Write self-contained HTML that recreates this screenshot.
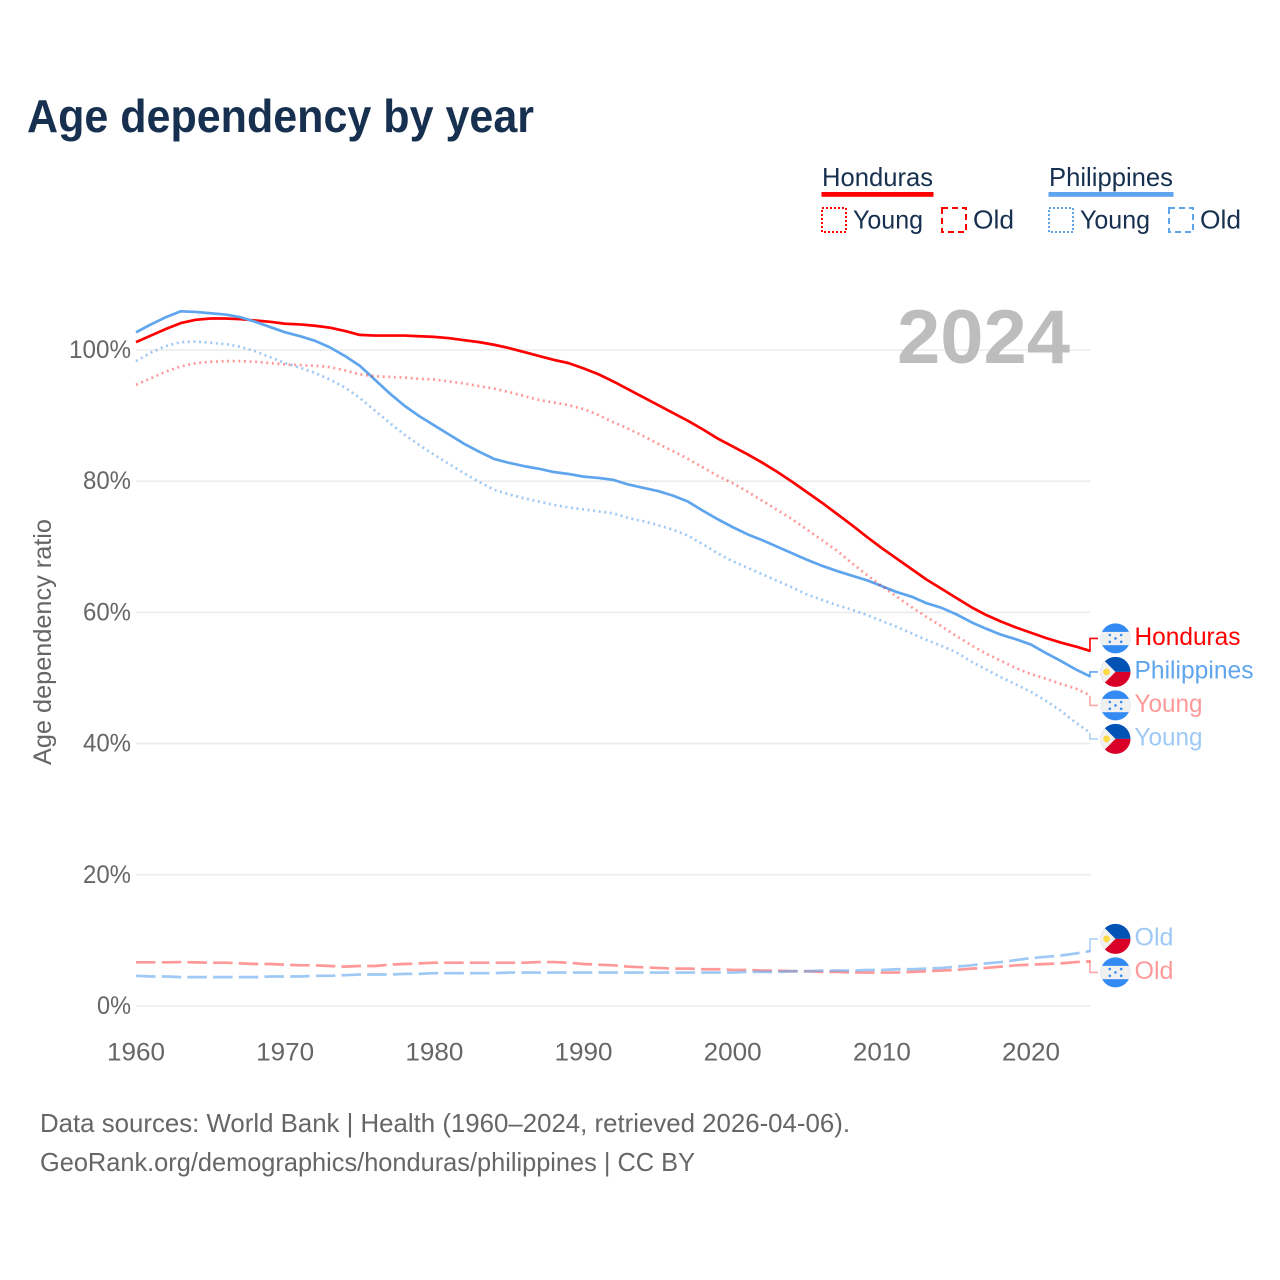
<!DOCTYPE html>
<html lang="en">
<head>
<meta charset="utf-8">
<title>Age dependency by year</title>
<style>
html,body{margin:0;padding:0;background:#fff;width:1280px;height:1280px;overflow:hidden}
svg{display:block}
text{font-family:"Liberation Sans",sans-serif}
</style>
</head>
<body>
<svg id="chart" width="1280" height="1280" viewBox="0 0 1280 1280" xmlns="http://www.w3.org/2000/svg">
<defs><clipPath id="flag-clip"><circle cx="0" cy="0" r="15"/></clipPath></defs>
<text x="27" y="132" font-size="46" font-weight="700" fill="#17304f" textLength="507" lengthAdjust="spacingAndGlyphs">Age dependency by year</text>

<g>
<g>
<text x="822" y="186" font-size="26" fill="#17304f" textLength="111" lengthAdjust="spacingAndGlyphs">Honduras</text>
<rect x="821.5" y="192" width="112" height="4.8" fill="#ff0000"/>
<rect x="822" y="208" width="24" height="24" fill="none" stroke="#ff0000" stroke-width="2" stroke-dasharray="2 2"/>
<text x="853" y="228.5" font-size="26" fill="#17304f" textLength="70" lengthAdjust="spacingAndGlyphs">Young</text>
<rect x="942" y="208" width="24" height="24" fill="none" stroke="#ff0000" stroke-width="2" stroke-dasharray="6 4"/>
<text x="973" y="228.5" font-size="26" fill="#17304f" textLength="41" lengthAdjust="spacingAndGlyphs">Old</text>
</g>
<g>
<text x="1049" y="186" font-size="26" fill="#17304f" textLength="124" lengthAdjust="spacingAndGlyphs">Philippines</text>
<rect x="1048.5" y="192" width="125" height="4.8" fill="#5fa5ee"/>
<rect x="1049" y="208" width="24" height="24" fill="none" stroke="#5fa5ee" stroke-width="2" stroke-dasharray="2 2"/>
<text x="1080" y="228.5" font-size="26" fill="#17304f" textLength="70" lengthAdjust="spacingAndGlyphs">Young</text>
<rect x="1169" y="208" width="24" height="24" fill="none" stroke="#5fa5ee" stroke-width="2" stroke-dasharray="6 4"/>
<text x="1200" y="228.5" font-size="26" fill="#17304f" textLength="41" lengthAdjust="spacingAndGlyphs">Old</text>
</g>
</g>

<g id="grid"></g>
<g id="y-ticks"></g>
<g id="x-ticks"></g>
<text transform="translate(51,642) rotate(-90)" text-anchor="middle" font-size="25" fill="#666666" textLength="246" lengthAdjust="spacingAndGlyphs">Age dependency ratio</text>
<text x="897" y="363" font-size="76" font-weight="700" fill="#bdbdbd" textLength="173" lengthAdjust="spacingAndGlyphs">2024</text>
<g id="series"></g>
<g id="end-labels"></g>

<text x="40" y="1132" font-size="26" fill="#666666" textLength="810" lengthAdjust="spacingAndGlyphs">Data sources: World Bank | Health (1960–2024, retrieved 2026-04-06).</text>
<text x="40" y="1171" font-size="26" fill="#666666" textLength="655" lengthAdjust="spacingAndGlyphs">GeoRank.org/demographics/honduras/philippines | CC BY</text>
</svg>
<script>
const startYear = 1960;
const xTickYears = [1960, 1970, 1980, 1990, 2000, 2010, 2020];
const yTickValues = [0, 20, 40, 60, 80, 100];

const hondurasTotal = [
 101.2,102.2,103.2,104.1,104.6,104.8,104.8,104.7,104.5,104.3,
 104.0,103.9,103.7,103.4,102.9,102.3,102.2,102.2,102.2,102.1,
 102.0,101.8,101.5,101.2,100.8,100.3,99.7,99.1,98.5,98.0,
 97.2,96.3,95.2,94.0,92.8,91.6,90.4,89.2,87.9,86.5,
 85.3,84.1,82.8,81.4,79.9,78.3,76.7,75.0,73.3,71.5,
 69.8,68.2,66.6,65.0,63.6,62.2,60.8,59.6,58.6,57.7,
 56.9,56.1,55.4,54.8,54.1];
const philippinesTotal = [
 102.7,103.9,105.0,105.9,105.8,105.6,105.4,105.0,104.3,103.5,
 102.7,102.1,101.4,100.4,99.1,97.6,95.5,93.4,91.5,89.9,
 88.5,87.1,85.7,84.5,83.4,82.8,82.3,81.9,81.4,81.1,
 80.7,80.5,80.2,79.5,79.0,78.5,77.8,76.9,75.5,74.2,
 73.0,71.9,71.0,70.0,69.0,68.0,67.1,66.3,65.6,64.9,
 64.0,63.1,62.4,61.4,60.7,59.7,58.5,57.5,56.6,55.9,
 55.1,53.8,52.6,51.3,50.2];
const hondurasYoung = [
 94.7,95.7,96.7,97.5,98.0,98.2,98.3,98.3,98.2,98.0,
 97.8,97.7,97.6,97.4,96.9,96.3,96.0,95.9,95.8,95.6,
 95.5,95.2,94.9,94.5,94.1,93.6,93.0,92.4,92.0,91.6,
 91.0,90.1,89.0,88.0,86.9,85.7,84.6,83.4,82.1,80.8,
 79.7,78.4,77.0,75.6,74.2,72.6,71.0,69.4,67.5,65.7,
 64.0,62.4,60.8,59.3,57.9,56.4,55.0,53.7,52.6,51.5,
 50.6,49.9,49.1,48.4,47.3];
const philippinesYoung = [
 98.3,99.6,100.6,101.2,101.3,101.1,100.9,100.5,99.8,98.9,
 98.0,97.3,96.5,95.5,94.3,92.7,90.8,88.9,87.1,85.5,
 84.0,82.6,81.2,79.9,78.7,78.0,77.4,76.9,76.4,76.0,
 75.7,75.4,75.1,74.4,73.9,73.3,72.6,71.7,70.4,69.0,
 67.8,66.8,65.8,64.8,63.8,62.7,61.9,61.1,60.4,59.6,
 58.7,57.8,56.8,55.8,54.9,53.9,52.5,51.3,50.1,49.0,
 47.9,46.5,45.0,43.2,41.6];
const hondurasOld = [
 6.66,6.66,6.66,6.7,6.65,6.6,6.6,6.5,6.4,6.4,
 6.3,6.2,6.2,6.1,6.0,6.1,6.1,6.3,6.4,6.5,
 6.6,6.6,6.6,6.6,6.6,6.6,6.6,6.7,6.7,6.6,
 6.4,6.3,6.2,6.0,5.9,5.8,5.7,5.7,5.6,5.6,
 5.5,5.5,5.4,5.4,5.3,5.3,5.2,5.2,5.1,5.1,
 5.1,5.1,5.2,5.3,5.4,5.5,5.7,5.8,6.0,6.2,
 6.3,6.4,6.5,6.7,6.8];
const philippinesOld = [
 4.6,4.5,4.5,4.4,4.4,4.4,4.4,4.4,4.4,4.5,
 4.5,4.5,4.6,4.6,4.7,4.8,4.8,4.8,4.9,4.9,
 5.0,5.0,5.0,5.0,5.0,5.1,5.1,5.1,5.1,5.1,
 5.1,5.1,5.1,5.1,5.1,5.1,5.1,5.1,5.1,5.1,
 5.1,5.2,5.2,5.2,5.3,5.3,5.4,5.4,5.4,5.5,
 5.5,5.6,5.6,5.7,5.8,6.0,6.2,6.5,6.7,7.0,
 7.3,7.5,7.7,8.0,8.4];

const SVGNS = 'http://www.w3.org/2000/svg';
const xScale = year => 136 + (year - 1960) * (1031 - 136) / 60;
const yScale = value => 1006 - value * (1006 - 350) / 100;
const mk = (tag, attrs, parent) => {
  const el = document.createElementNS(SVGNS, tag);
  for (const k in attrs) el.setAttribute(k, attrs[k]);
  parent.appendChild(el);
  return el;
};

const gridG = document.getElementById('grid');


const yTicksG = document.getElementById('y-ticks');


const xTicksG = document.getElementById('x-ticks');


const seriesG = document.getElementById('series');


const labelsG = document.getElementById('end-labels');



const lastYear = startYear + hondurasTotal.length - 1;

yTickValues.forEach(v => {
  const line = mk('line', {x1: 136, x2: xScale(lastYear), y1: yScale(v), y2: yScale(v), stroke: '#ececec', 'stroke-width': 1.6}, gridG);
  
  
  const t = mk('text', {x: 131, y: yScale(v) + 8, 'text-anchor': 'end', 'font-size': 25, fill: '#666666'}, yTicksG);
  
  
  t.setAttribute('textLength', (String(v).length * 14) + 20);
  t.setAttribute('lengthAdjust', 'spacingAndGlyphs');
  t.textContent = v + '%';
});

xTickYears.forEach(y => {
  const t = mk('text', {x: xScale(y), y: 1060.5, 'text-anchor': 'middle', 'font-size': 25, fill: '#666666', textLength: 58, lengthAdjust: 'spacingAndGlyphs'}, xTicksG);
  
  
  t.textContent = y;
});

const RED = '#ff0000', BLUE = '#5fa5ee';
const seriesList = [
  {key: 'honduras-total', values: hondurasTotal, color: RED, opacity: 1, dash: '', label: 'Honduras', flag: 'hn', group: 0},
  {key: 'philippines-total', values: philippinesTotal, color: BLUE, opacity: 1, dash: '', label: 'Philippines', flag: 'ph', group: 0},
  {key: 'honduras-young', values: hondurasYoung, color: RED, opacity: .4, dash: '2 3.6', label: 'Young', flag: 'hn', group: 0},
  {key: 'philippines-young', values: philippinesYoung, color: BLUE, opacity: .6, dash: '2 3.6', label: 'Young', flag: 'ph', group: 0},
  {key: 'honduras-old', values: hondurasOld, color: RED, opacity: .4, dash: '19.5 6.2', label: 'Old', flag: 'hn', group: 1},
  {key: 'philippines-old', values: philippinesOld, color: BLUE, opacity: .6, dash: '19.5 6.2', label: 'Old', flag: 'ph', group: 1}
];
const labelWidth = {Honduras: 106, Philippines: 119, Young: 68, Old: 39};

seriesList.forEach(s => {
  const d = s.values.map((v, i) => (i ? 'L' : 'M') + xScale(startYear + i).toFixed(2) + ',' + yScale(v).toFixed(2)).join(' ');
  const p = mk('path', {d, fill: 'none', stroke: s.color, 'stroke-opacity': s.opacity, 'stroke-width': 2.7, 'stroke-linejoin': 'round'}, seriesG);
  if (s.dash) p.setAttribute('stroke-dasharray', s.dash);
  
  
});

/* dodge end labels: each cluster keeps its mean position with fixed row spacing */
const ROW = 33.5;
[0, 1].forEach(group => {
  const members = seriesList.filter(s => s.group === group)
    .map(s => ({s, end: yScale(s.values[s.values.length - 1])}))
    .sort((a, b) => a.end - b.end);
  const mean = members.reduce((acc, m) => acc + m.end, 0) / members.length;
  members.forEach((m, i) => { m.s.rowY = mean + (i - (members.length - 1) / 2) * ROW - 0.5; m.s.endY = m.end; });
});

function drawFlag(kind, cy, parent) {
  const outer = mk('g', {transform: 'translate(1115.5,' + cy.toFixed(2) + ')'}, parent);
  
  
  const g = mk('g', {'clip-path': 'url(#flag-clip)'}, outer);
  if (kind === 'hn') {
    mk('rect', {x: -16, y: -16, width: 32, height: 32, fill: '#338af3'}, g);
    mk('rect', {x: -16, y: -6.5, width: 32, height: 13.3, fill: '#f0f0f0'}, g);
    [[-5.7, -3.4], [5.7, -3.4], [0, 0], [-5.7, 3.4], [5.7, 3.4]].forEach(c => {
      mk('circle', {cx: c[0], cy: c[1], r: 1.3, fill: '#338af3'}, g);
    });
  } else {
    mk('rect', {x: -16, y: -16, width: 32, height: 16, fill: '#0052b4'}, g);
    mk('rect', {x: -16, y: 0, width: 32, height: 16, fill: '#d80027'}, g);
    mk('path', {d: 'M-16,-16 L-10.5,-10.5 L0,0 L-10.5,10.5 L-16,16 Z', fill: '#f0f0f0'}, g);
    mk('circle', {cx: -9, cy: 0, r: 3.4, fill: '#ffda44'}, g);
  }
}

seriesList.forEach(s => {
  const xEnd = xScale(lastYear) - 0.7;
  const conn = mk('path', {d: 'M' + xEnd + ',' + s.endY.toFixed(2) + ' V' + s.rowY.toFixed(2) + ' H1098', fill: 'none', stroke: s.color, 'stroke-opacity': s.opacity * (s.opacity < 1 ? .85 : 1), 'stroke-width': 1.6}, labelsG);
  
  
  drawFlag(s.flag, s.rowY, labelsG);
  const t = mk('text', {x: 1134.5, y: s.rowY + 6.5, 'font-size': 25, fill: s.color, 'fill-opacity': s.opacity, textLength: labelWidth[s.label], lengthAdjust: 'spacingAndGlyphs'}, labelsG);
  
  
  t.textContent = s.label;
});
</script>
</body>
</html>
